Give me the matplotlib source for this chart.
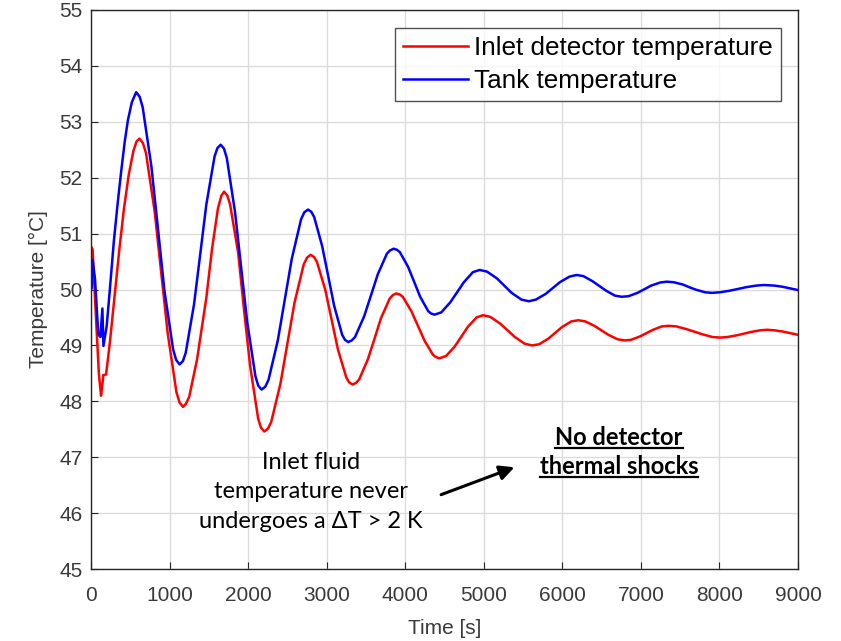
import matplotlib
matplotlib.use("Agg")
import matplotlib.pyplot as plt
from matplotlib.lines import Line2D

# Inlet detector temperature (red)
inlet_t = [0, 20, 60, 100, 128, 145, 157, 192, 240, 298, 362, 420, 480, 540, 580, 617,
           661, 700, 811, 894, 977, 1088, 1127, 1171,
           1210, 1250, 1350, 1468, 1541, 1616, 1660, 1694,
           1735, 1771, 1873, 1950, 2026, 2128, 2164, 2205,
           2252, 2294, 2412, 2501, 2590, 2708, 2750, 2797,
           2840, 2877, 2983, 3063, 3143, 3249, 3286, 3329,
           3374, 3413, 3524, 3608, 3692, 3803, 3842, 3887,
           3931, 3969, 4079, 4162, 4244, 4354, 4392, 4436,
           4519, 4630, 4713, 4796, 4907, 4990,
           5084, 5209, 5303, 5396, 5521, 5615,
           5703, 5821, 5909, 5997, 6115, 6203,
           6291, 6408, 6497, 6585, 6702, 6790,
           6874, 6987, 7071, 7155, 7268, 7352,
           7451, 7583, 7682, 7780, 7912, 8011,
           8101, 8220, 8310, 8399, 8518, 8608,
           8700, 8800, 8900, 9000]
inlet_T = [50.77, 50.72, 49.6, 48.5, 48.10, 48.3, 48.47, 48.48, 49.05, 49.85, 50.73, 51.45, 52.05, 52.48, 52.65, 52.70,
           52.62, 52.44, 51.39, 50.30, 49.21, 48.16, 47.98, 47.90,
           47.96, 48.08, 48.75, 49.85, 50.73, 51.45, 51.68, 51.75,
           51.68, 51.52, 50.66, 49.61, 48.63, 47.69, 47.53, 47.46,
           47.51, 47.63, 48.32, 49.04, 49.76, 50.45, 50.57, 50.62,
           50.58, 50.49, 49.99, 49.46, 48.93, 48.43, 48.34, 48.30,
           48.33, 48.39, 48.75, 49.115, 49.49, 49.84, 49.90, 49.93,
           49.91, 49.87, 49.61, 49.35, 49.09, 48.83, 48.79, 48.77,
           48.81, 48.98, 49.155, 49.33, 49.50, 49.54,
           49.51, 49.39, 49.27, 49.15, 49.03, 49.00,
           49.02, 49.12, 49.225, 49.33, 49.43, 49.45,
           49.43, 49.35, 49.27, 49.19, 49.11, 49.09,
           49.10, 49.16, 49.22, 49.28, 49.34, 49.35,
           49.34, 49.29, 49.245, 49.20, 49.15, 49.14,
           49.15, 49.18, 49.21, 49.24, 49.27, 49.28,
           49.27, 49.25, 49.22, 49.19]

# Tank temperature (blue)
tank_t = [0, 8, 20, 51, 93, 120, 145, 158, 200, 240, 290, 340, 383, 430, 470, 520, 575,
          619, 658, 769, 852, 934, 1045, 1084, 1128,
          1170, 1206, 1311, 1390, 1468, 1573, 1609, 1651,
          1693, 1729, 1833, 1911, 1989, 2093, 2129, 2171,
          2218, 2260, 2378, 2467, 2556, 2674, 2715, 2763,
          2804, 2840, 2942, 3019, 3095, 3197, 3233, 3274,
          3320, 3361, 3477, 3564, 3650, 3766, 3807, 3853,
          3895, 3931, 4035, 4113, 4190, 4294, 4330, 4372,
          4458, 4573, 4660, 4746, 4861, 4947,
          5041, 5166, 5260, 5354, 5479, 5573,
          5664, 5786, 5877, 5968, 6090, 6181,
          6267, 6382, 6469, 6555, 6670, 6756,
          6842, 6957, 7044, 7130, 7245, 7331,
          7417, 7532, 7618, 7704, 7819, 7905,
          8004, 8136, 8235, 8334, 8466, 8565,
          8700, 8800, 8900, 9000]
tank_T = [50.0, 50.02, 50.53, 50.19, 49.2, 49.15, 49.66, 48.99, 49.35, 50.0, 50.85, 51.55, 52.1, 52.65, 53.03, 53.35, 53.53,
          53.45, 53.26, 52.20, 51.095, 49.99, 48.93, 48.74, 48.66,
          48.72, 48.87, 49.73, 50.625, 51.52, 52.38, 52.53, 52.59,
          52.52, 52.35, 51.39, 50.40, 49.41, 48.45, 48.28, 48.21,
          48.26, 48.385, 49.09, 49.82, 50.55, 51.255, 51.38, 51.43,
          51.39, 51.30, 50.78, 50.245, 49.71, 49.19, 49.10, 49.06,
          49.09, 49.15, 49.52, 49.895, 50.27, 50.64, 50.70, 50.73,
          50.71, 50.67, 50.41, 50.14, 49.87, 49.61, 49.57, 49.55,
          49.59, 49.77, 49.95, 50.13, 50.31, 50.35,
          50.32, 50.20, 50.07, 49.94, 49.82, 49.79,
          49.82, 49.92, 50.025, 50.13, 50.23, 50.26,
          50.24, 50.15, 50.065, 49.98, 49.89, 49.87,
          49.88, 49.94, 50.005, 50.07, 50.125, 50.14,
          50.13, 50.09, 50.04, 49.995, 49.95, 49.94,
          49.95, 49.98, 50.01, 50.04, 50.07, 50.08,
          50.07, 50.05, 50.02, 49.99]

x_ticks = list(range(0, 9001, 1000))
y_ticks = list(range(45, 56))

note_left = "Inlet fluid\ntemperature never\nundergoes a \u0394T > 2 K"
note_right = ["No detector", "thermal shocks"]

plt.rcParams['font.family'] = ['Liberation Sans', 'DejaVu Sans']

fig = plt.figure(figsize=(8.41, 6.41), dpi=100)
ax = fig.add_axes([0.1082, 0.1123, 0.8407, 0.8721])

ax.plot(inlet_t, inlet_T, color='#ff0000', lw=1.8, label='Inlet detector temperature')
ax.plot(tank_t, tank_T, color='#0000ff', lw=1.8, label='Tank temperature')

ax.set_xlim(0, 9000)
ax.set_ylim(45, 55)
ax.set_xticks(x_ticks)
ax.set_yticks(y_ticks)
ax.grid(True, color='#dcdcdc', lw=1)
ax.set_axisbelow(True)
ax.tick_params(direction='in', length=5, width=0.8, colors='#262626',
               labelsize=15, labelcolor='#3a3a3a', top=False, right=False, pad=6)
ax.tick_params(axis='x', pad=12)
for s in ax.spines.values():
    s.set_color('#262626')
    s.set_linewidth(1)

ax.set_xlabel('Time [s]', fontsize=15, color='#3a3a3a', labelpad=10)
ax.set_ylabel('Temperature [\u00b0C]', fontsize=15, color='#3a3a3a', labelpad=8)

leg = ax.legend(loc='upper right', bbox_to_anchor=(0.976, 0.968), fontsize=18.8,
                frameon=True, fancybox=False, edgecolor='#262626', handlelength=2.5,
                handletextpad=0.25, borderpad=0.3, labelspacing=0.35, borderaxespad=0)
leg.get_frame().set_linewidth(1)

note_font = ['Lato', 'DejaVu Sans']
ax.text(2800, 46.38, note_left, ha='center', va='center', fontsize=17,
        family=note_font, color='black', linespacing=1.5)

right_texts = []
for i, line in enumerate(note_right):
    right_texts.append(ax.text(6720, 47.36 - 0.52 * i, line, ha='center', va='center',
                               fontsize=17, fontweight='bold', family=note_font,
                               color='black'))

ax.annotate('', xy=(5390, 46.82), xytext=(4457, 46.33),
            arrowprops=dict(arrowstyle='-|>', color='black', lw=2.2,
                            mutation_scale=22, shrinkA=0, shrinkB=0))

# underline the bold note
fig.canvas.draw()
renderer = fig.canvas.get_renderer()
inv = fig.transFigure.inverted()
for t in right_texts:
    bb = t.get_window_extent(renderer)
    (x0, y0), (x1, _) = inv.transform([(bb.x0, bb.y0 + 1), (bb.x1, bb.y0 + 1)])
    fig.add_artist(Line2D([x0, x1], [y0, y0], color='black', lw=1.6,
                          transform=fig.transFigure))

fig.savefig('out.png', dpi=100)
